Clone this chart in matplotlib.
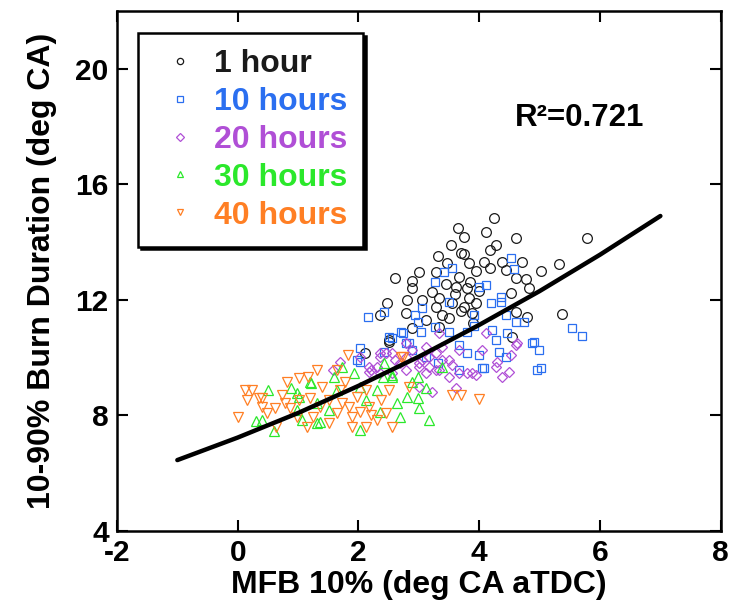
import matplotlib

matplotlib.use("Agg")
import matplotlib.pyplot as plt
from matplotlib.lines import Line2D

plt.rcParams["font.family"] = ["Liberation Sans", "DejaVu Sans"]
plt.rcParams["font.weight"] = "bold"
plt.rcParams["axes.unicode_minus"] = False

# values: MFB 10% (x) and 10-90% burn duration (y)
h1_x = [4.25, 3.64, 3.75, 4.12, 4.61, 5.79, 3.54, 4.28, 4.17, 3.31, 3.70, 4.08, 4.38, 4.71,
        5.32, 5.02, 3.01, 3.47, 3.83, 3.95, 4.17, 4.45, 4.61, 4.78, 2.60, 2.89, 3.29, 3.67,
        3.62, 3.79, 2.88, 4.83, 3.22, 4.53, 2.81, 2.48, 3.06, 3.34, 3.83, 3.55, 3.95, 3.29,
        3.75, 2.79, 2.35, 3.39, 3.88, 4.61, 4.79, 5.37, 3.12, 3.50, 2.89, 3.34, 4.55, 2.10,
        2.51, 3.60, 3.70, 3.85, 3.45, 3.90, 4.00, 3.75, 2.51]
h1_y = [14.83, 14.48, 14.17, 14.35, 14.14, 14.14, 13.90, 13.90, 13.72, 13.52, 13.62, 13.31,
        13.31, 13.31, 13.24, 13.00, 12.96, 13.27, 13.27, 13.00, 13.10, 13.03, 12.75, 12.72,
        12.75, 12.65, 12.96, 12.79, 12.44, 12.41, 12.41, 12.41, 12.27, 12.24, 11.99, 11.89,
        11.99, 12.06, 12.06, 11.89, 11.89, 11.75, 11.75, 11.54, 11.47, 11.47, 11.54, 11.58,
        11.40, 11.51, 11.30, 11.37, 11.02, 11.06, 10.71, 10.16, 10.61, 12.20, 11.60, 12.60,
        12.55, 11.20, 12.30, 13.60, 10.54]

h10_x = [4.53, 4.58, 3.55, 3.42, 3.26, 4.12, 4.00, 4.36, 4.36, 3.50, 4.20, 2.15, 2.43, 3.06,
         2.93, 3.92, 4.45, 2.98, 3.26, 4.61, 5.54, 5.70, 2.73, 2.55, 3.04, 3.50, 3.79, 4.21,
         4.46, 4.28, 2.84, 3.67, 4.88, 4.99, 2.02, 2.43, 2.88, 3.80, 4.00, 4.33, 4.45, 5.02,
         4.08, 3.12, 3.31, 3.67, 4.74, 4.91, 4.96, 4.05, 1.97, 2.71, 2.79, 2.02, 2.51, 3.91]
h10_y = [13.45, 13.07, 13.10, 12.96, 12.62, 12.51, 12.44, 12.10, 11.92, 11.92, 11.89, 11.40,
         11.58, 11.72, 11.47, 11.47, 11.47, 11.23, 11.06, 11.23, 11.02, 10.75, 10.85, 10.68,
         10.89, 10.89, 10.89, 10.96, 10.85, 10.61, 10.51, 10.44, 10.51, 10.26, 10.33, 10.19,
         10.26, 10.16, 10.09, 10.19, 10.02, 9.64, 9.64, 10.02, 9.81, 9.57, 11.23, 10.54,
         9.57, 9.64, 9.92, 10.89, 10.51, 9.85, 10.71, 11.10]

h20_x = [4.63, 4.53, 4.12, 4.30, 4.38, 3.67, 3.95, 3.39, 3.55, 2.56, 2.35, 2.18, 2.68, 3.12,
         3.29, 3.01, 4.61, 4.28, 4.05, 3.67, 3.50, 3.34, 3.17, 3.06, 2.79, 2.60, 2.46, 2.35,
         2.21, 3.17, 3.39, 2.89, 4.50, 3.88, 1.57, 1.69, 2.18, 2.30, 2.35, 2.56, 2.79, 3.01,
         3.12, 3.29, 3.50, 3.62, 3.79, 3.01, 3.22, 2.02, 2.79, 3.34]
h20_y = [10.51, 10.09, 10.85, 9.85, 9.33, 9.47, 9.40, 9.92, 9.74, 10.16, 10.02, 9.67, 9.81,
         10.37, 10.16, 9.67, 10.44, 9.67, 10.26, 10.26, 9.92, 9.57, 9.67, 9.92, 9.57, 9.92,
         10.16, 9.47, 9.57, 10.02, 10.37, 10.26, 9.50, 9.47, 9.57, 9.85, 9.50, 9.67, 10.16,
         9.47, 10.02, 9.81, 9.47, 9.57, 9.33, 8.95, 9.47, 8.98, 8.81, 10.02, 10.51, 10.85]

h30_x = [0.50, 0.40, 0.89, 1.02, 1.19, 1.36, 1.52, 1.65, 1.60, 1.72, 1.93, 2.02, 2.13, 2.30,
         2.40, 2.43, 2.56, 2.63, 2.68, 2.81, 2.89, 2.98, 3.01, 3.12, 3.17, 3.39, 2.02, 2.35,
         1.31, 0.98, 0.30, 1.07, 1.31, 0.99, 1.22, 2.56, 2.98, 0.60]
h30_y = [8.88, 7.84, 8.95, 8.64, 9.16, 7.77, 8.19, 8.88, 9.33, 9.67, 9.47, 8.98, 8.53, 8.88,
         9.33, 9.81, 9.33, 8.43, 7.94, 8.64, 9.16, 8.60, 8.26, 8.95, 7.84, 9.67, 7.49, 8.12,
         8.43, 8.19, 7.80, 7.84, 7.74, 8.78, 9.12, 9.40, 9.33, 7.45]

h40_x = [0.00, 0.15, 0.23, 0.40, 0.73, 0.81, 1.02, 1.16, 1.31, 0.48, 0.61, 0.64, 0.86, 1.02,
         1.19, 1.36, 1.40, 1.52, 1.64, 1.69, 1.77, 1.82, 1.64, 1.72, 1.85, 1.97, 2.02, 2.13,
         2.18, 2.30, 2.38, 2.46, 2.51, 2.56, 2.71, 2.84, 3.55, 1.52, 1.90, 2.13, 1.14, 1.24,
         0.98, 0.41, 0.78, 1.90, 2.21, 0.12, 0.36, 2.73, 4.00, 3.70]
h40_y = [7.94, 8.53, 8.88, 8.60, 8.71, 9.16, 9.29, 9.33, 9.57, 8.08, 8.26, 7.60, 8.26, 8.53,
         8.60, 8.29, 8.98, 8.53, 9.57, 8.88, 9.16, 10.09, 8.08, 8.43, 8.29, 8.64, 8.12, 8.88,
         8.29, 7.84, 8.53, 8.08, 8.88, 7.60, 10.02, 8.98, 8.71, 7.74, 7.60, 7.60, 7.60, 7.94,
         7.94, 8.29, 8.43, 7.94, 8.01, 8.88, 8.60, 10.02, 8.55, 8.70]

# fitted curve, read at integer x
fit_x = [-1, 0, 1, 2, 3, 4, 5, 6, 7]
fit_y = [6.45, 7.23, 8.08, 9.02, 10.03, 11.13, 12.30, 13.56, 14.90]

series = [
    ("1 hour", h1_x, h1_y, "o", "#1a1a1a", 7.0),
    ("10 hours", h10_x, h10_y, "s", "#2b6ff0", 6.4),
    ("20 hours", h20_x, h20_y, "D", "#b04fd6", 5.0),
    ("30 hours", h30_x, h30_y, "^", "#2be82b", 7.2),
    ("40 hours", h40_x, h40_y, "v", "#ff7f24", 7.2),
]

fig = plt.figure(figsize=(7.31, 6.06), dpi=100)
ax = fig.add_axes([0.160, 0.124, 0.826, 0.858])

handles = []
for label, xs, ys, marker, color, size in series:
    ax.plot(xs, ys, linestyle="none", marker=marker, markersize=size,
            markerfacecolor="none", markeredgecolor=color, markeredgewidth=0.9)
    handles.append(Line2D([], [], linestyle="none", marker=marker, markersize=4.5,
                          markerfacecolor="none", markeredgecolor=color,
                          markeredgewidth=0.9, label=label))

ax.plot(fit_x, fit_y, color="black", linewidth=3.2, solid_capstyle="round",
        solid_joinstyle="round")

ax.set_xlim(-2, 8)
ax.set_ylim(4, 22)
ax.set_xticks([-2, 0, 2, 4, 6, 8])
ax.set_yticks([4, 8, 12, 16, 20])
ax.tick_params(direction="in", length=8, width=1.5, labelsize=21.5, pad=6,
               top=True, right=True)
for spine in ax.spines.values():
    spine.set_linewidth(1.8)

ax.set_xlabel("MFB 10% (deg CA aTDC)", fontsize=23, fontweight="bold", labelpad=2)
ax.set_ylabel("10-90% Burn Duration (deg CA)", fontsize=23, fontweight="bold", labelpad=13)

ax.text(0.659, 0.794, "R²=0.721", transform=ax.transAxes, fontsize=22.5,
        fontweight="bold", va="center", ha="left")

leg = ax.legend(handles=handles, loc="upper left", bbox_to_anchor=(0.035, 0.958),
                borderaxespad=0, prop={"weight": "bold", "size": 23},
                fancybox=False, framealpha=1, edgecolor="black",
                shadow={"color": "black", "alpha": 1}, handlelength=1.6,
                handletextpad=0.28, labelspacing=0.25, borderpad=0.5)
leg.get_frame().set_linewidth(1.8)
for text, (_, _, _, _, color, _) in zip(leg.get_texts(), series):
    text.set_color(color)

fig.savefig("out.png", dpi=100)
